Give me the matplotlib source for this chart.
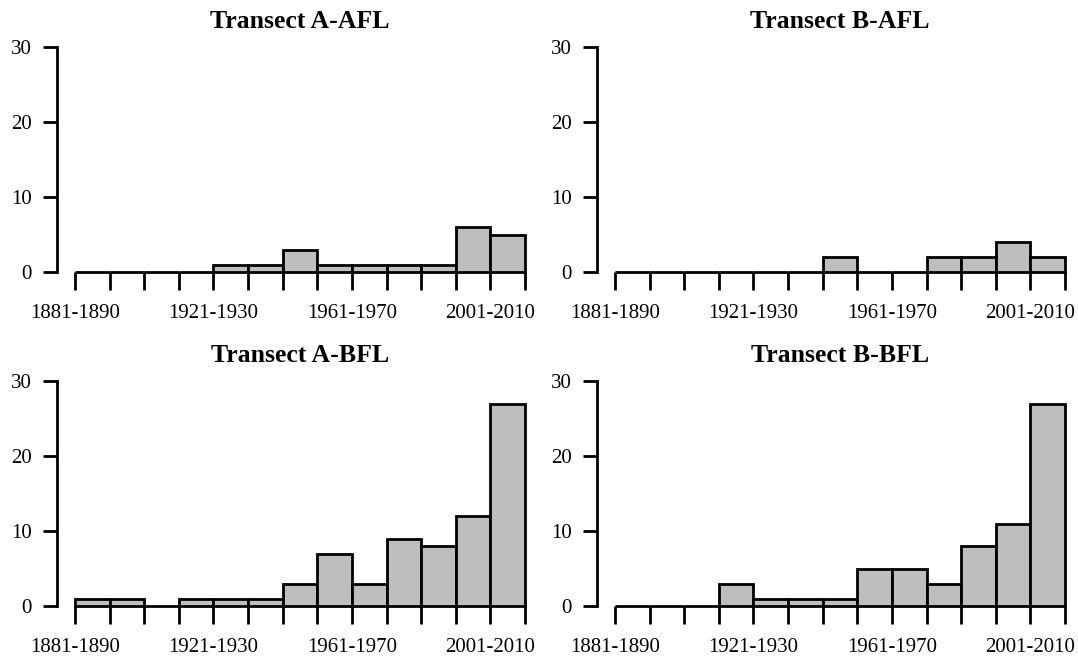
import matplotlib
matplotlib.use("Agg")
import matplotlib.pyplot as plt
import numpy as np

plt.rcParams["font.family"] = ["Liberation Serif", "DejaVu Serif"]

# Decade bins, 1881-1890 through 2011-2020
decades = ["1881-1890", "1891-1900", "1901-1910", "1911-1920", "1921-1930",
           "1931-1940", "1941-1950", "1951-1960", "1961-1970", "1971-1980",
           "1981-1990", "1991-2000", "2001-2010", "2011-2020"]

titles = ["Transect A-AFL", "Transect B-AFL", "Transect A-BFL", "Transect B-BFL"]

a_afl = [0, 0, 0, 0, 1, 1, 3, 1, 1, 1, 1, 6, 5]
b_afl = [0, 0, 0, 0, 0, 0, 2, 0, 0, 2, 2, 4, 2]
a_bfl = [1, 1, 0, 1, 1, 1, 3, 7, 3, 9, 8, 12, 27]
b_bfl = [0, 0, 0, 3, 1, 1, 1, 5, 5, 3, 8, 11, 27]

counts = [a_afl, b_afl, a_bfl, b_bfl]
labelled_edges = [0, 4, 8, 12]

W, H = 1078, 656
fig = plt.figure(figsize=(W / 100, H / 100), dpi=100)

# pixel geometry: y-spine x, last-edge x, zero-line y
boxes = [(57, 525, 272), (597, 1065, 272), (57, 525, 606), (597, 1065, 606)]
first_edge_px = {57: 75, 597: 615}
plot_h = 225
lw = 2.0

for title, vals, (xl, xr, y0) in zip(titles, counts, boxes):
    ax = fig.add_axes([xl / W, (H - y0) / H, (xr - xl) / W, plot_h / H])
    n = len(vals)
    px_per_bin = (xr - first_edge_px[xl]) / n
    left_lim = -(first_edge_px[xl] - xl) / px_per_bin
    edges = np.arange(n + 1)
    ax.bar(edges[:-1], vals, width=1, align="edge", color="#bebebe",
           edgecolor="black", linewidth=lw, clip_on=False, zorder=3)
    ax.set_xlim(left_lim, n)
    ax.set_ylim(0, 30)

    for s in ["top", "right"]:
        ax.spines[s].set_visible(False)
    ax.spines["bottom"].set_visible(False)
    ax.spines["left"].set_linewidth(lw)
    ax.spines["left"].set_bounds(0, 30)

    ax.set_yticks([0, 10, 20, 30])
    ax.tick_params(axis="y", direction="out", length=10, width=lw,
                   labelsize=15, pad=8)

    ax.set_xticks(edges)
    ax.set_xticklabels([decades[i] if i in labelled_edges else "" for i in edges])
    ax.tick_params(axis="x", direction="out", length=13, width=lw,
                   labelsize=15, pad=10)
    for t in ax.xaxis.get_major_ticks():
        t.tick1line.set_clip_on(False)

    # title centred over the bins
    cx = (first_edge_px[xl] + xr) / 2
    ax.text((cx - xl) / (xr - xl), 1 + 25 / plot_h, title, transform=ax.transAxes,
            ha="center", va="center", fontsize=18.5, fontweight="bold")
    ax.patch.set_visible(False)

fig.savefig("out.png", dpi=100)
